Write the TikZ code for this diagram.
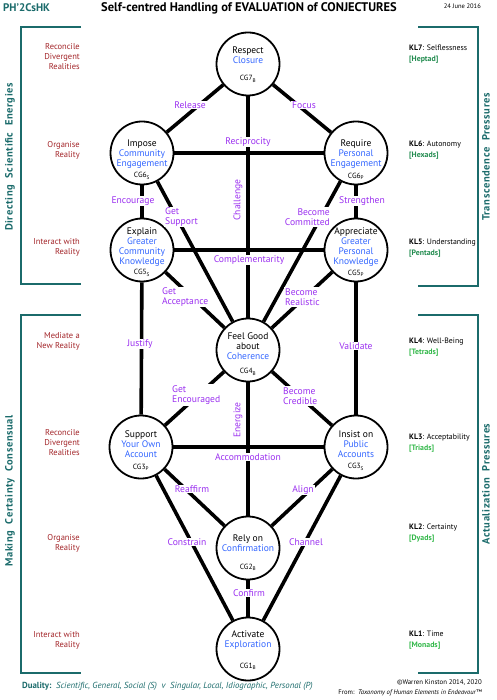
\documentclass[tikz,border=0pt]{standalone}
\usepackage{fontspec}
\setmainfont{PT Sans}
\definecolor{tealc}{HTML}{1B6B6B}
\definecolor{dred}{HTML}{A3262A}
\definecolor{purp}{HTML}{9B30F0}
\definecolor{blu}{HTML}{3366FF}
\definecolor{dgreen}{HTML}{238C50}
\definecolor{lgreen}{HTML}{33B84A}
\tikzset{
  cg/.style={circle, draw, line width=1.8pt, minimum size=63pt, inner sep=0pt},
  ln/.style={line width=3.6pt},
  nt/.style={align=center, font=\fontsize{9.5}{10}\selectfont, inner sep=0pt},
  cd/.style={font=\fontsize{7.5}{8}\selectfont, inner sep=0pt},
  el/.style={text=purp, fill=white, font=\fontsize{9.6}{10.2}\selectfont, inner sep=1pt, align=center},
  ell/.style={el, align=left},
  elr/.style={el, align=right},
  rl/.style={text=dred, align=right, anchor=east, inner sep=0pt, font=\fontsize{8.5}{10}\selectfont},
  kl/.style={anchor=west, align=left, inner sep=0pt, font=\fontsize{7.8}{10.5}\selectfont},
  brk/.style={draw=tealc, line width=2pt},
  vl/.style={text=tealc, font=\bfseries\fontsize{10.5}{12}\selectfont\addfontfeature{LetterSpace=6}, inner sep=0pt, rotate=90}
}
\newcommand{\bl}[1]{\textcolor{blu}{#1}}
\begin{document}
\begin{tikzpicture}[x=1pt,y=-1pt]
\useasboundingbox (0,0) rectangle (496,700);
% header
\node[text=tealc, font=\bfseries\fontsize{11}{12}\selectfont, anchor=west, inner sep=0pt] (hdr) at (3,8) {PH’2CsHK};
\node[font=\bfseries\fontsize{12.5}{14}\selectfont, inner sep=0pt] (title) at (249,8) {Self-centred Handling of EVALUATION of CONJECTURES};
\node[font=\fontsize{6.5}{7}\selectfont, anchor=east, inner sep=0pt] (date) at (481,6) {24 June 2016};
% brackets
\draw[brk] (81,27) -- (21,27) -- (21,284) -- (81,284);
\draw[brk] (81,315) -- (21,315) -- (21,673) -- (81,673);
\draw[brk] (418,27) -- (478,27) -- (478,286) -- (418,286);
\draw[brk] (418,315) -- (478,315) -- (478,673) -- (418,673);
\node[vl] (vl1) at (10,157) {Directing\ \ Scientific\ \ Energies};
\node[vl] (vl2) at (10,491) {Making\ \ Certainty\ \ Consensual};
\node[vl] (vr1) at (486,157) {Transcendence\ \ Pressures};
\node[vl] (vr2) at (486,484) {Actualization\ \ Pressures};
% left labels
\node[rl] (r7) at (80,57) {Reconcile\\Divergent\\Realities};
\node[rl] (r6) at (80,150) {Organise\\Reality};
\node[rl] (r5) at (80,247) {Interact with\\Reality};
\node[rl] (r4) at (80,341) {Mediate a\\New Reality};
\node[rl] (r3) at (80,443) {Reconcile\\Divergent\\Realities};
\node[rl] (r2) at (80,543) {Organise\\Reality};
\node[rl] (r1) at (80,640) {Interact with\\Reality};
% right labels
\node[kl] (k7) at (409,54) {\textbf{KL7}: Selflessness\\\textcolor{dgreen}{\textbf{[Heptad]}}};
\node[kl] (k6) at (409,150) {\textbf{KL6}: Autonomy\\\textcolor{dgreen}{\textbf{[Hexads]}}};
\node[kl] (k5) at (409,248) {\textbf{KL5}: Understanding\\\textcolor{dgreen}{\textbf{[Pentads]}}};
\node[kl] (k4) at (409,347) {\textbf{KL4}: Well-Being\\\textcolor{lgreen}{\textbf{[Tetrads]}}};
\node[kl] (k3) at (409,443) {\textbf{KL3}: Acceptability\\\textcolor{lgreen}{\textbf{[Triads]}}};
\node[kl] (k2) at (409,533) {\textbf{KL2}: Certainty\\\textcolor{lgreen}{\textbf{[Dyads]}}};
\node[kl] (k1) at (409,640) {\textbf{KL1}: Time\\\textcolor{lgreen}{\textbf{[Monads]}}};
% circles
\node[cg] (c7) at (248,64) {};
\node[cg] (c6s) at (142,153) {};
\node[cg] (c6p) at (356,153) {};
\node[cg] (c5s) at (142,250) {};
\node[cg] (c5p) at (356,250) {};
\node[cg] (c4) at (248,350) {};
\node[cg] (c3p) at (141,447) {};
\node[cg] (c3s) at (356,447) {};
\node[cg] (c2) at (248,548) {};
\node[cg] (c1) at (248,649) {};
% connectors
\draw[ln] (c7) -- (c6s);
\draw[ln] (c7) -- (c6p);
\draw[ln] (c7) -- (c4);
\draw[ln] (c6s) -- (c6p);
\draw[ln] (c6s) -- (c5s);
\draw[ln] (c6p) -- (c5p);
\draw[ln] (c6s) -- (c4);
\draw[ln] (c6p) -- (c4);
\draw[ln] (c5s) -- (c5p);
\draw[ln] (c5s) -- (c4);
\draw[ln] (c5p) -- (c4);
\draw[ln] (c5s) -- (c3p);
\draw[ln] (c5p) -- (c3s);
\draw[ln] (c4) -- (c3p);
\draw[ln] (c4) -- (c3s);
\draw[ln] (c4) -- (c2);
\draw[ln] (c3p) -- (c3s);
\draw[ln] (c3p) -- (c2);
\draw[ln] (c3s) -- (c2);
\draw[ln] (c3p) -- (c1);
\draw[ln] (c3s) -- (c1);
\draw[ln] (c2) -- (c1);
% node texts
\node[nt] (t7) at (248,55) {Respect\\\bl{Closure}};
\node[cd] (d7) at (248,79) {CG7\textsubscript{B}};
\node[nt] (t6s) at (142,154) {Impose\\\bl{Community}\\\bl{Engagement}};
\node[cd] (d6s) at (142,176) {CG6\textsubscript{S}};
\node[nt] (t6p) at (356,154) {Require\\\bl{Personal}\\\bl{Engagement}};
\node[cd] (d6p) at (356,176) {CG6\textsubscript{P}};
\node[nt] (t5s) at (142,247.5) {Explain\\\bl{Greater}\\\bl{Community}\\\bl{Knowledge}};
\node[cd] (d5s) at (142,273) {CG5\textsubscript{S}};
\node[nt] (t5p) at (356,247.5) {Appreciate\\\bl{Greater}\\\bl{Personal}\\\bl{Knowledge}};
\node[cd] (d5p) at (356,273) {CG5\textsubscript{P}};
\node[nt] (t4) at (248,346) {Feel Good\\about\\\bl{Coherence}};
\node[cd] (d4) at (248,372) {CG4\textsubscript{B}};
\node[nt] (t3p) at (141,444) {Support\\\bl{Your Own}\\\bl{Account}};
\node[cd] (d3p) at (141,467) {CG3\textsubscript{P}};
\node[nt] (t3s) at (356,444) {Insist on\\\bl{Public}\\\bl{Accounts}};
\node[cd] (d3s) at (356,467) {CG3\textsubscript{S}};
\node[nt] (t2) at (248,543) {Rely on\\\bl{Confirmation}};
\node[cd] (d2) at (248,567) {CG2\textsubscript{B}};
\node[nt] (t1) at (248,640.5) {Activate\\\bl{Exploration}};
\node[cd] (d1) at (248,666) {CG1\textsubscript{B}};
% edge labels
\node[el] (eRel) at (190,105) {Release};
\node[el] (eFoc) at (304,105) {Focus};
\node[el] (eRec) at (248,142) {Reciprocity};
\node[el, rotate=90, fill=none] (eCha) at (238,200) {Challenge};
\node[el] (eEnc) at (133,201) {Encourage};
\node[el] (eStr) at (362,201) {Strengthen};
\node[ell, anchor=west] (eGS) at (164,217) {Get\\Support};
\node[elr, anchor=east] (eBC) at (331,217) {Become\\Committed};
\node[el] (eCom) at (249,260) {Complementarity};
\node[ell, anchor=west] (eGA) at (161,297) {Get\\Acceptance};
\node[ell, anchor=west] (eBR) at (284,297) {Become\\Realistic};
\node[el] (eJus) at (140,344) {Justify};
\node[el] (eVal) at (356,346) {Validate};
\node[ell, anchor=west] (eGE) at (171,395) {Get\\Encouraged};
\node[ell, anchor=west] (eBCr) at (282,396) {Become\\Credible};
\node[el, rotate=90, fill=none] (eEne) at (238,420) {Energize};
\node[el] (eAcc) at (248,457) {Accommodation};
\node[el] (eRea) at (192,489) {Reaffirm};
\node[el] (eAli) at (303,490) {Align};
\node[el] (eCon) at (187,542) {Constrain};
\node[el] (eCha2) at (306,542) {Channel};
\node[el] (eCnf) at (249,593) {Confirm};
% footer
\node[anchor=west, inner sep=0pt, text=tealc, font=\fontsize{8.8}{10}\selectfont] (dual) at (22,686) {\textbf{Duality:}\ \ \textit{Scientific, General, Social (S)\ \ v\ \ Singular, Local, Idiographic, Personal (P)}};
\node[anchor=east, inner sep=0pt, font=\fontsize{6.8}{7.5}\selectfont] (copy) at (482,683) {©Warren Kinston 2014, 2020};
\node[anchor=east, inner sep=0pt, font=\fontsize{6.6}{7.5}\selectfont] (from) at (482,693) {From:\ \ \textit{Taxonomy of Human Elements in Endeavour™}};
\end{tikzpicture}
\end{document}
